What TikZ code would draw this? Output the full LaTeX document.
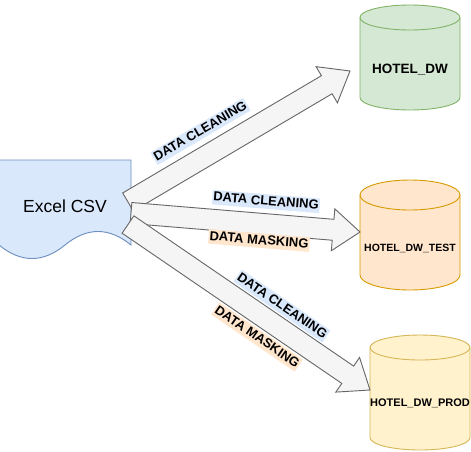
\documentclass[tikz,border=0pt]{standalone}
\usepackage{fontspec}
\setmainfont{Liberation Sans}
\usetikzlibrary{calc}
\definecolor{docfill}{HTML}{DAE8FC}
\definecolor{docline}{HTML}{6C8EBF}
\definecolor{grfill}{HTML}{D5E8D4}
\definecolor{grline}{HTML}{82B366}
\definecolor{orfill}{HTML}{FFE6CC}
\definecolor{orline}{HTML}{D79B00}
\definecolor{yefill}{HTML}{FFF2CC}
\definecolor{yeline}{HTML}{D6B656}
\definecolor{arfill}{HTML}{F5F5F5}
\definecolor{arline}{HTML}{666666}
\tikzset{
  arrowbody/.style={fill=arfill, draw=arline, line width=0.9pt, line join=miter},
  lab/.style={font=\bfseries\fontsize{13}{13}\selectfont, inner xsep=1pt, inner ysep=1.5pt, text height=9.5pt, text depth=2pt},
  cleanlab/.style={lab, fill=docfill},
  masklab/.style={lab, fill=orfill},
  dblab/.style={font=\bfseries\fontsize{#1}{#1}\selectfont, inner sep=0pt},
}
% flexible block arrow from tail coordinate #1 to tip coordinate #2
\newcommand\flexarrow[2]{%
  \coordinate (#1-h) at ($(#2)!27pt!(#1)$);
  \draw[arrowbody] ($(#1)!10.5pt!90:(#2)$) -- ($(#1-h)!10.5pt!90:(#2)$) -- ($(#1-h)!21pt!90:(#2)$) -- (#2)
     -- ($(#1-h)!21pt!-90:(#2)$) -- ($(#1-h)!10.5pt!-90:(#2)$) -- ($(#1)!10.5pt!-90:(#2)$) -- cycle;}
% cylinder: fill, line, x0, ytop, x1, ybottom, ry
\newcommand\dbcyl[7]{%
  \pgfmathsetmacro\rxx{(#5-#3)/2}%
  \draw[fill=#1, draw=#2, line width=0.9pt] (#3,#4+#7) -- (#3,#6-#7)
     arc[start angle=180, end angle=360, x radius=\rxx pt, y radius=#7 pt]
     -- (#5,#4+#7) arc[start angle=0, end angle=180, x radius=\rxx pt, y radius=#7 pt] -- cycle;
  \draw[draw=#2, line width=0.9pt] (#3,#4+#7) arc[start angle=180, end angle=360, x radius=\rxx pt, y radius=#7 pt];}
\begin{document}
\begin{tikzpicture}[x=1pt, y=-1pt]
\useasboundingbox (0,0) rectangle (471,451);
\fill[white] (0,0) rectangle (471,451);

% Excel CSV document shape
\draw[fill=docfill, draw=docline, line width=0.9pt] (-1,160) -- (131,160) -- (131,245)
  .. controls (109,227) and (87,227) .. (65,245)
  .. controls (43,263) and (21,263) .. (-1,245) -- cycle;
\node[font=\fontsize{17.5}{17.5}\selectfont, inner sep=0pt] (csv) at (65,206) {Excel CSV};

% cylinders
\dbcyl{grfill}{grline}{360}{5}{460}{110}{12.5}
\node[dblab=13.5] (dw) at (410,70) {HOTEL\_DW};
\dbcyl{orfill}{orline}{360}{180}{460}{290}{15}
\node[dblab=10.5] (dwtest) at (410,248) {HOTEL\_DW\_TEST};
\dbcyl{yefill}{yeline}{370}{335}{470}{450}{12.5}
\node[dblab=11] (dwprod) at (420,403) {HOTEL\_DW\_PROD};

% arrow end points
\coordinate (t1) at (128,202);   \coordinate (p1) at (350,71);
\coordinate (t2) at (131,213);   \coordinate (p2) at (360,232);
\coordinate (t3) at (128,224.5); \coordinate (p3) at (370,390);

\flexarrow{t1}{p1}
\flexarrow{t2}{p2}
\flexarrow{t3}{p3}

% labels
\node[cleanlab, rotate=30.5] (l1) at (200.5,131.5) {DATA CLEANING};
\node[cleanlab, rotate=-4.7] (l2a) at (266,201.5) {DATA CLEANING};
\node[masklab, rotate=-4.7] (l2b) at (259,240.5) {DATA MASKING};
\node[cleanlab, rotate=-34.4] (l3a) at (282,306) {DATA CLEANING};
\node[masklab, rotate=-34.4] (l3b) at (257,337) {DATA MASKING};
\end{tikzpicture}
\end{document}
